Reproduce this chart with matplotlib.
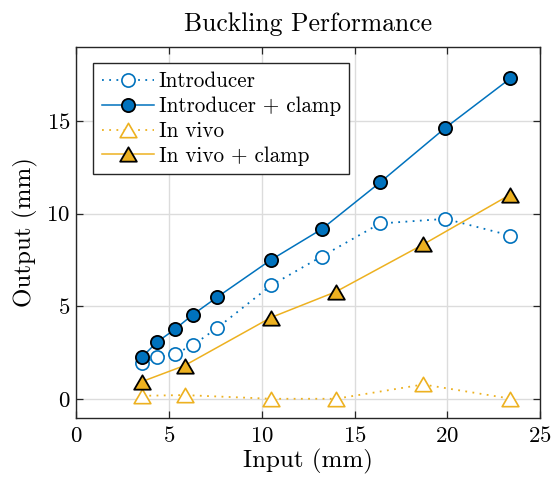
import matplotlib
matplotlib.use("Agg")
import matplotlib.pyplot as plt
from matplotlib.path import Path

plt.rcParams['font.family'] = ['cmr10', 'DejaVu Serif']
plt.rcParams['mathtext.fontset'] = 'cm'
plt.rcParams['axes.unicode_minus'] = False
plt.rcParams['axes.formatter.use_mathtext'] = True

# Data
x_intro = [3.54, 4.36, 5.30, 6.28, 7.59, 10.49, 13.22, 16.37, 19.9, 23.4]
y_intro = [1.96, 2.26, 2.44, 2.91, 3.84, 6.13, 7.69, 9.47, 9.72, 8.82]
y_intro_clamp = [2.28, 3.09, 3.76, 4.56, 5.50, 7.51, 9.16, 11.68, 14.63, 17.29]

x_vivo = [3.54, 5.83, 10.49, 13.99, 18.70, 23.4]
y_vivo = [0.18, 0.22, 0.02, 0.02, 0.79, 0.03]
y_vivo_clamp = [0.95, 1.81, 4.40, 5.79, 8.34, 11.03]

labels = ['Introducer', 'Introducer + clamp', 'In vivo', 'In vivo + clamp']
xticks = [0, 5, 10, 15, 20, 25]
yticks = [0, 5, 10, 15]

blue = '#0072BD'
yellow = '#EDB120'

tri = Path([(-1, -0.86), (1, -0.86), (0, 0.86), (-1, -0.86)],
           [Path.MOVETO, Path.LINETO, Path.LINETO, Path.CLOSEPOLY])
dotted = (0, (1, 3))

fig = plt.figure(figsize=(5.53, 4.83), dpi=100)
ax = fig.add_axes([0.1383, 0.1352, 0.8382, 0.7681])

ax.plot(x_intro, y_intro, linestyle=dotted, color=blue, lw=1.3, marker='o', ms=9.5,
        mfc='white', mec=blue, mew=1.2, label=labels[0], zorder=3)
ax.plot(x_intro, y_intro_clamp, '-', color=blue, lw=1.1, marker='o', ms=9.5,
        mfc=blue, mec='black', mew=1.3, label=labels[1], zorder=4)
ax.plot(x_vivo, y_vivo, linestyle=dotted, color=yellow, lw=1.3, marker=tri, ms=12,
        mfc='white', mec=yellow, mew=1.2, label=labels[2], zorder=3)
ax.plot(x_vivo, y_vivo_clamp, '-', color=yellow, lw=1.1, marker=tri, ms=12,
        mfc=yellow, mec='black', mew=1.3, label=labels[3], zorder=4)

ax.set_xlim(0, 25)
ax.set_ylim(-1, 19)
ax.set_xticks(xticks)
ax.set_yticks(yticks)
ax.grid(True, color='#dcdcdc', lw=1.0)
ax.set_axisbelow(True)
ax.tick_params(direction='in', top=True, right=True, length=5, width=0.9,
               labelsize=16.5, color='#262626')
ax.tick_params(axis='y', pad=4.5)
ax.tick_params(axis='x', pad=6)
for s in ax.spines.values():
    s.set_linewidth(1.0)
    s.set_color('#262626')

ax.set_xlabel('Input (mm)', fontsize=18, labelpad=2)
ax.set_ylabel('Output (mm)', fontsize=18, labelpad=6)
ax.set_title('Buckling Performance', fontsize=18.5, pad=11)

leg = ax.legend(loc='upper left', bbox_to_anchor=(0.036, 0.955), fontsize=15.2,
                frameon=True, fancybox=False, framealpha=1, edgecolor='#262626',
                borderpad=0.4, handlelength=2.5, handletextpad=0.2,
                labelspacing=0.25, borderaxespad=0)
leg.get_frame().set_linewidth(1.0)

fig.savefig('out.png', dpi=100)
